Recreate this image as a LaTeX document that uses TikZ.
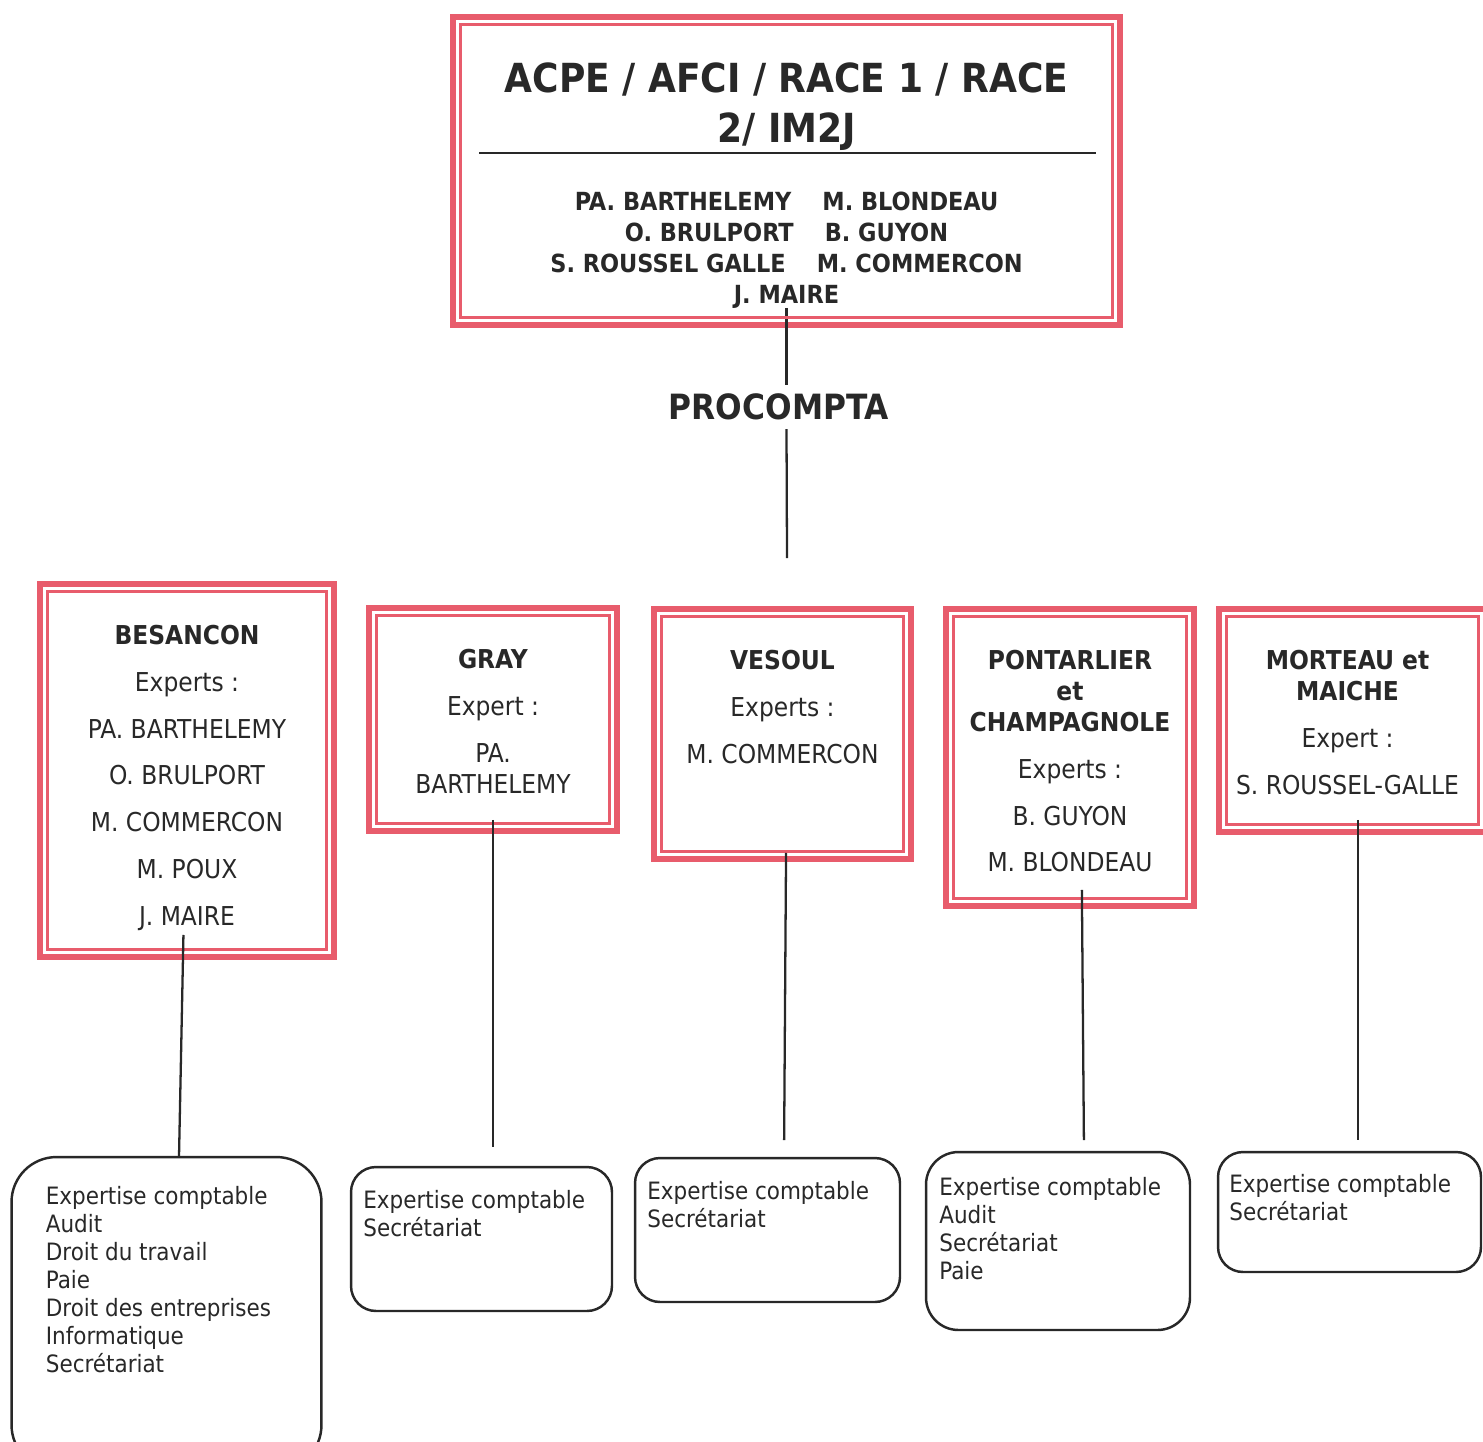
\documentclass[tikz,border=0pt]{standalone}
\usepackage{fontspec}
\setmainfont{DejaVu Sans Condensed}
\usetikzlibrary{positioning}
\definecolor{boxred}{RGB}{232,92,108}
\definecolor{inkgrey}{RGB}{40,40,40}
\tikzset{
  base/.style={font=\fontsize{14.8}{17.6}\selectfont, align=center, inner sep=0pt, text=inkgrey},
  redbox/.style={rectangle, draw=boxred, line width=3.4pt, outer sep=0pt, inner sep=0pt},
  redinner/.style={draw=boxred, line width=1.4pt},
  svcbox/.style={rectangle, rounded corners=0.5cm, draw=inkgrey, line width=1.4pt, outer sep=0pt, inner sep=0pt},
  citytxt/.style={base},
  svctxt/.style={base, align=left, font=\fontsize{13.6}{15.9}\selectfont},
  titletxt/.style={base, font=\bfseries\fontsize{22.8}{28.5}\selectfont},
  nametxt/.style={base, font=\bfseries\fontsize{14.2}{17.6}\selectfont},
  headtxt/.style={base, font=\bfseries\fontsize{19.8}{24}\selectfont, inner sep=0.17cm},
  conn/.style={draw=inkgrey, line width=1.3pt},
}

\begin{document}
\begin{tikzpicture}[x=0.02cm,y=-0.02cm]
  \useasboundingbox (0,0) rectangle (1483,1441);
  % head office
  \node[redbox,minimum width=13.34cm,minimum height=6.16cm] (top) at (786.5,171) {};
  \node[titletxt,below=0.9cm of top.north] (title) {ACPE / AFCI / RACE 1 / RACE\\2/ IM2J};
  \draw[line width=0.9pt,draw=inkgrey] (479,153) -- (1096,153);
  \node[nametxt,below=3.5cm of top.north] (names)
    {PA. BARTHELEMY\hspace{0.62cm}M. BLONDEAU\\
     O. BRULPORT\hspace{0.62cm}B. GUYON\\
     S. ROUSSEL GALLE\hspace{0.62cm}M. COMMERCON\\
     J. MAIRE};
  \node[headtxt] (proc) at (779,407) {PROCOMPTA};
  \coordinate (hub) at (787,558);
  \draw[conn] ([yshift=0.34cm]top.south) -- (proc.north -| top.south);
  \draw[conn] (proc.south -| top.south) -- (hub);
  % offices
  \node[redbox,minimum width=5.88cm,minimum height=7.46cm] (b1) at (187,770.5) {};
  \node[redbox,minimum width=4.96cm,minimum height=4.46cm] (b2) at (493,719.5) {};
  \node[redbox,minimum width=5.14cm,minimum height=5.0cm] (b3) at (782.5,734) {};
  \node[redbox,minimum width=4.96cm,minimum height=5.94cm] (b4) at (1070,757.5) {};
  \node[redbox,minimum width=5.34cm,minimum height=4.46cm] (b5) at (1352.5,720.5) {};
  \foreach \b in {top,b1,b2,b3,b4,b5}{
    \draw[redinner] ([shift={(0.15cm,-0.15cm)}]\b.north west) rectangle ([shift={(-0.15cm,0.15cm)}]\b.south east);
  }
  \node[citytxt,below=0.82cm of b1.north] (t1) {\textbf{BESANCON}\\[9pt]Experts :\\[9pt]PA. BARTHELEMY\\[9pt]O. BRULPORT\\[9pt]M. COMMERCON\\[9pt]M. POUX\\[9pt]J. MAIRE};
  \node[citytxt,below=0.82cm of b2.north] (t2) {\textbf{GRAY}\\[9pt]Expert :\\[9pt]PA.\\BARTHELEMY};
  \node[citytxt,below=0.82cm of b3.north] (t3) {\textbf{VESOUL}\\[9pt]Experts :\\[9pt]M. COMMERCON};
  \node[citytxt,below=0.82cm of b4.north] (t4) {\textbf{PONTARLIER}\\\textbf{et}\\\textbf{CHAMPAGNOLE}\\[9pt]Experts :\\[9pt]B. GUYON\\[9pt]M. BLONDEAU};
  \node[citytxt,below=0.82cm of b5.north,xshift=-0.1cm] (t5) {\textbf{MORTEAU et}\\\textbf{MAICHE}\\[9pt]Expert :\\[9pt]S. ROUSSEL-GALLE};
  % services
  \node[svcbox,rounded corners=0.9cm,minimum width=6.2cm,minimum height=6.26cm] (s1) at (166.5,1313.5) {};
  \node[svcbox,minimum width=5.22cm,minimum height=2.88cm] (s2) at (481.5,1239) {};
  \node[svcbox,minimum width=5.3cm,minimum height=2.88cm] (s3) at (767.5,1230) {};
  \node[svcbox,rounded corners=0.65cm,minimum width=5.28cm,minimum height=3.56cm] (s4) at (1058,1241) {};
  \node[svcbox,minimum width=5.26cm,minimum height=2.4cm] (s5) at (1349.5,1212) {};
  \node[svctxt,below right=0.58cm and 0.68cm of s1.north west] (v1) {Expertise comptable\\Audit\\Droit du travail\\Paie\\Droit des entreprises\\Informatique\\Secrétariat};
  \node[svctxt,below right=0.46cm and 0.24cm of s2.north west] (v2) {Expertise comptable\\Secrétariat};
  \node[svctxt,below right=0.46cm and 0.24cm of s3.north west] (v3) {Expertise comptable\\Secrétariat};
  \node[svctxt,below right=0.5cm and 0.26cm of s4.north west] (v4) {Expertise comptable\\Audit\\Secrétariat\\Paie};
  \node[svctxt,below right=0.44cm and 0.22cm of s5.north west] (v5) {Expertise comptable\\Secrétariat};
  \foreach \i/\xa/\xb/\u/\g in {1/183/179/0.44cm/0cm, 2/493/493/0.22cm/0.4cm, 3/786/784/0.12cm/0.36cm, 4/1082/1084/0.32cm/0.24cm, 5/1358/1358/0.24cm/0.24cm}{
    \draw[conn,shorten <=-\u,shorten >=\g] (b\i.south -| \xa,0) -- (s\i.north -| \xb,0);
  }
\end{tikzpicture}
\end{document}
